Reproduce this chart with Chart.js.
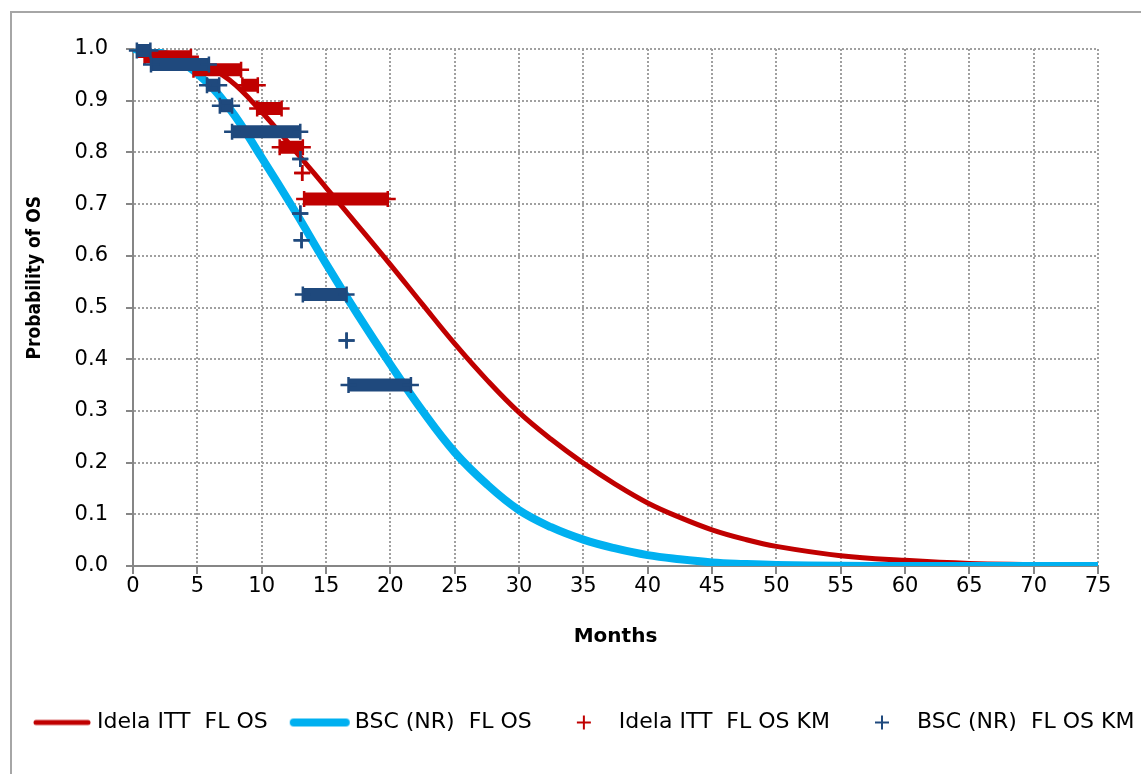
<!DOCTYPE html>
<html>
<head>
<meta charset="utf-8">
<title>Probability of OS</title>
<script src="https://cdn.jsdelivr.net/npm/chart.js@4.4.1/dist/chart.umd.min.js"></script>
<style>
    html, body { margin: 0; padding: 0; background: #fff; overflow: hidden; }
    #wrap { position: relative; width: 1141px; height: 774px; overflow: hidden; }
    #frame { position: absolute; left: 10px; top: 11px; width: 1200px; height: 800px; border: 2px solid #a6a6a6; pointer-events: none; }
    canvas { position: absolute; left: 0; top: 0; }
</style>
</head>
<body>
<div id="wrap">
    <div id="frame"></div>
    <!-- canvas is wider than the page so the legend row has room; the extra strip is cut off -->
    <canvas id="os-chart" width="1200" height="774"></canvas>
</div>
<script>
// Fitted OS curves (every 2.5 months, 5 in the tail)
const curveMonths = [0, 2.5, 5, 7.5, 10, 12.5, 15, 17.5, 20, 22.5, 25, 27.5, 30, 32.5, 35, 37.5, 40, 42.5, 45, 47.5, 50, 55, 60, 65, 70, 75];
const idelaFit = [1.0, 0.993, 0.975, 0.94, 0.878, 0.806, 0.732, 0.658, 0.583, 0.506, 0.43, 0.36, 0.297, 0.245, 0.199, 0.158, 0.122, 0.094, 0.07, 0.052, 0.038, 0.02, 0.011, 0.005, 0.003, 0.001];
const bscFit = [1.0, 0.99, 0.952, 0.885, 0.79, 0.69, 0.585, 0.485, 0.39, 0.30, 0.22, 0.158, 0.108, 0.075, 0.051, 0.034, 0.021, 0.013, 0.007, 0.004, 0.002, 0.0005, 0.0001, 0, 0, 0];

// Kaplan-Meier steps: start month, end month, survival (start == end is a single mark)
const idelaKmStart = [0.9, 4.7, 8.5, 9.65, 11.4, 13.15, 13.3];
const idelaKmEnd = [4.5, 8.4, 9.7, 11.55, 13.2, 13.15, 19.8];
const idelaKmSurv = [0.985, 0.96, 0.93, 0.885, 0.81, 0.76, 0.71];

const bscKmStart = [0.3, 1.4, 5.75, 6.75, 7.7, 13.0, 13.0, 13.1, 13.2, 16.6, 16.75];
const bscKmEnd = [1.35, 5.9, 6.7, 7.7, 13.0, 13.0, 13.0, 13.1, 16.6, 16.6, 21.6];
const bscKmSurv = [0.997, 0.97, 0.93, 0.89, 0.84, 0.787, 0.682, 0.63, 0.525, 0.436, 0.35];

const legendNames = ['Idela ITT  FL OS', 'BSC (NR)  FL OS', 'Idela ITT  FL OS KM', 'BSC (NR)  FL OS KM'];

const RED = '#C00000';
const CYAN = '#00B0F0';
const NAVY = '#1F497D';

function curvePoints(xs, ys) {
    return xs.map((x, i) => ({ x: x, y: ys[i] }));
}

// one segment per step, broken by a null point
function kmSteps(starts, ends, surv) {
    const pts = [];
    starts.forEach((s, i) => {
        pts.push({ x: s, y: surv[i] }, { x: ends[i], y: surv[i] }, { x: ends[i], y: null });
    });
    return pts;
}

// legend markers
function lineMarker(color, width) {
    const c = document.createElement('canvas');
    c.width = 62; c.height = 12;
    const g = c.getContext('2d');
    g.strokeStyle = color; g.lineWidth = width; g.lineCap = 'round';
    g.beginPath(); g.moveTo(5, 6); g.lineTo(57, 6); g.stroke();
    return c;
}

function crossMarker(color) {
    const c = document.createElement('canvas');
    c.width = 16; c.height = 16;
    const g = c.getContext('2d');
    g.strokeStyle = color; g.lineWidth = 2;
    g.beginPath(); g.moveTo(8, 1); g.lineTo(8, 15); g.moveTo(1, 8); g.lineTo(15, 8); g.stroke();
    return c;
}

const legendMarkers = [lineMarker(RED, 5), lineMarker(CYAN, 8), crossMarker(RED), crossMarker(NAVY)];

function kmDataset(label, data, color, order) {
    return {
        label: label,
        data: data,
        borderColor: color,
        backgroundColor: color,
        borderWidth: 13,
        borderCapStyle: 'butt',
        spanGaps: false,
        tension: 0,
        pointStyle: 'cross',
        pointRadius: 8,
        pointBorderWidth: 2.5,
        pointBorderColor: color,
        clip: false,
        order: order
    };
}

const tickFont = { family: "'DejaVu Sans', Verdana, sans-serif", size: 21 };
const gridStyle = { color: '#a0a0a0', lineWidth: 2, tickColor: '#868686', tickWidth: 2, tickBorderDash: [] };

const ctx = document.getElementById('os-chart').getContext('2d');
new Chart(ctx, {
    type: 'line',
    data: {
        datasets: [
            {
                label: legendNames[0],
                data: curvePoints(curveMonths, idelaFit),
                borderColor: RED,
                borderWidth: 5,
                pointRadius: 0,
                tension: 0.4,
                borderCapStyle: 'round',
                order: 4
            },
            {
                label: legendNames[1],
                data: curvePoints(curveMonths, bscFit),
                borderColor: CYAN,
                borderWidth: 8,
                pointRadius: 0,
                tension: 0.4,
                borderCapStyle: 'round',
                order: 3
            },
            kmDataset(legendNames[2], kmSteps(idelaKmStart, idelaKmEnd, idelaKmSurv), RED, 2),
            kmDataset(legendNames[3], kmSteps(bscKmStart, bscKmEnd, bscKmSurv), NAVY, 1)
        ]
    },
    options: {
        responsive: false,
        animation: false,
        layout: { padding: { left: 10, right: 0, top: 49, bottom: 30.5 } },
        scales: {
            x: {
                type: 'linear',
                min: 0,
                max: 75,
                ticks: { stepSize: 5, font: tickFont, color: '#000', padding: 0, maxRotation: 0 },
                grid: Object.assign({ tickLength: 8 }, gridStyle),
                border: { display: true, color: '#868686', width: 2, dash: [2, 2] },
                title: {
                    display: true,
                    text: 'Months',
                    font: { family: "'DejaVu Sans', Verdana, sans-serif", size: 20, weight: 'bold' },
                    color: '#000',
                    padding: { top: 0, bottom: 34.5 }
                },
                afterFit: function(scale) { scale.height = 117.5; }
            },
            y: {
                type: 'linear',
                min: 0,
                max: 1,
                ticks: { stepSize: 0.1, font: tickFont, color: '#000', padding: 18, callback: v => v.toFixed(1) },
                grid: Object.assign({ tickLength: 7 }, gridStyle),
                border: { display: true, color: '#868686', width: 2, dash: [2, 2] },
                title: {
                    display: true,
                    text: '          Probability of OS',
                    font: { family: "'DejaVu Sans Condensed', 'DejaVu Sans', sans-serif", size: 19, weight: 'bold' },
                    color: '#000',
                    padding: { top: 14, bottom: 0 }
                },
                afterFit: function(scale) { scale.width = 123; }
            },
            // empty right-hand axis: keeps the plot's right edge at month 75
            yRight: {
                type: 'linear',
                position: 'right',
                display: true,
                grid: { display: false },
                border: { display: false },
                ticks: { display: false },
                afterFit: function(scale) { scale.width = 102; }
            }
        },
        plugins: {
            tooltip: { enabled: false },
            legend: {
                position: 'bottom',
                align: 'start',
                labels: {
                    usePointStyle: true,
                    pointStyleWidth: 48,
                    padding: 28,
                    color: '#000',
                    font: { family: "'DejaVu Sans', Verdana, sans-serif", size: 22 },
                    generateLabels: function() {
                        return legendNames.map((name, i) => ({
                            text: name,
                            pointStyle: legendMarkers[i],
                            fillStyle: 'transparent',
                            strokeStyle: 'transparent',
                            lineWidth: 0,
                            hidden: false,
                            datasetIndex: i
                        }));
                    }
                }
            }
        }
    }
});
</script>
</body>
</html>
